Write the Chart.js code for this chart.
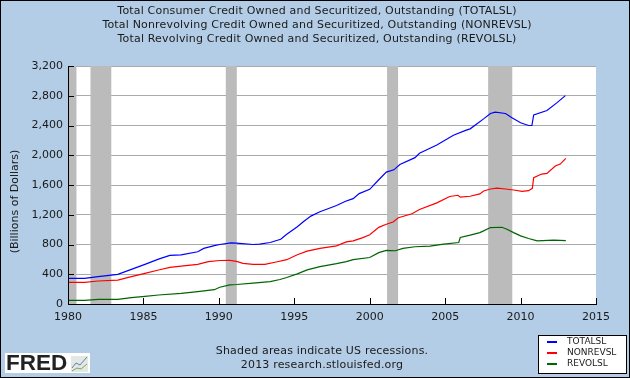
<!DOCTYPE html>
<html lang="en">
<head>
  <meta charset="UTF-8" />
  <title>FRED - Consumer Credit</title>
  <script src="https://cdn.jsdelivr.net/npm/chart.js"></script>
  <style>
    body { margin: 0; padding: 0; background: #b3cde6; }
    canvas { display: block; }
  </style>
</head>
<body>
  <canvas id="fredChart" width="630" height="378"></canvas>

  <script>
    const titleLines = [
      'Total Consumer Credit Owned and Securitized, Outstanding (TOTALSL)',
      'Total Nonrevolving Credit Owned and Securitized, Outstanding (NONREVSL)',
      'Total Revolving Credit Owned and Securitized, Outstanding (REVOLSL)'
    ];
    const footLines = ['Shaded areas indicate US recessions.', '2013 research.stlouisfed.org'];
    const yAxisLabel = '(Billions of Dollars)';

    const recessionStarts = [1980, 1981.49, 1990.46, 2001.15, 2007.85];
    const recessionEnds = [1980.56, 1982.87, 1991.19, 2001.88, 2009.45];

    const totalYears = [1980, 1981.1, 1982, 1983.3, 1984.2, 1985.1, 1986, 1986.75, 1987.5, 1988.6, 1989, 1989.7,
      1990.06, 1990.8, 1991.17, 1992.27, 1992.7, 1993.4, 1994.1, 1994.5, 1995.2, 1995.6, 1996.1, 1996.7, 1997.1,
      1997.8, 1998.4, 1998.9, 1999.3, 2000, 2000.6, 2001.1, 2001.6, 2002, 2003, 2003.3, 2004.45, 2005.55, 2006.4,
      2006.66, 2007.55, 2008, 2008.32, 2009, 2009.43, 2010, 2010.53, 2010.75, 2010.87, 2011.75, 2012.4, 2012.97];
    const totalValues = [345, 345, 367, 399, 466, 533, 604, 654, 660, 703, 748, 784,
      800, 822, 818, 800, 804, 827, 871, 938, 1040, 1106, 1182, 1240, 1271,
      1324, 1382, 1417, 1484, 1542, 1671, 1773, 1804, 1875, 1968, 2026, 2137, 2270, 2337,
      2355, 2489, 2561, 2579, 2561, 2503, 2436, 2400, 2400, 2543, 2601, 2704, 2802];

    const nonrevYears = [1980, 1981.1, 1982, 1983.3, 1984.2, 1985.1, 1986, 1986.75, 1987.5, 1988.6, 1989.3, 1990.06,
      1990.73, 1991.17, 1991.6, 1992.27, 1993.05, 1993.8, 1994.5, 1995.2, 1995.85, 1996.7, 1997.8, 1998.45, 1998.9,
      1999.55, 2000, 2000.6, 2001.1, 2001.55, 2001.9, 2002.8, 2003.3, 2004.45, 2005.3, 2005.85, 2006, 2006.66, 2007.3,
      2007.55, 2008, 2008.43, 2009, 2009.54, 2010.1, 2010.53, 2010.78, 2010.87, 2011.4, 2011.75, 2012.3, 2012.63, 2013];
    const nonrevValues = [291, 291, 309, 322, 367, 412, 457, 493, 510, 533, 569, 585,
      587, 574, 547, 534, 534, 565, 596, 662, 711, 747, 782, 835, 849,
      893, 930, 1030, 1072, 1103, 1160, 1214, 1271, 1360, 1445, 1462, 1436, 1449, 1480,
      1519, 1546, 1559, 1546, 1533, 1515, 1524, 1555, 1698, 1747, 1756, 1855, 1881, 1957];

    const revolYears = [1980, 1981.1, 1982, 1983.3, 1984.2, 1985.1, 1986, 1987.5, 1988.6, 1989.7, 1990.06, 1990.73,
      1991.17, 1992.27, 1993.4, 1994.05, 1994.5, 1995.2, 1995.85, 1996.7, 1997.8, 1998.45, 1998.9, 2000, 2000.6,
      2001.1, 2001.7, 2002.2, 2003, 2004, 2004.9, 2005.9, 2006, 2006.66, 2007.3, 2007.55, 2008, 2008.76, 2009.1,
      2009.54, 2010, 2010.53, 2011.1, 2012.2, 2013];
    const revolValues = [49, 49, 63, 63, 85, 103, 121, 143, 166, 192, 225, 258,
      262, 280, 302, 329, 356, 405, 458, 502, 542, 569, 596, 625, 690,
      721, 716, 747, 770, 778, 805, 827, 894, 925, 960, 983, 1028, 1032, 1005,
      960, 916, 880, 849, 858, 853];

    const pairs = (xs, ys) => xs.map((x, i) => ({ x, y: ys[i] }));
    const axisFont = { family: "'DejaVu Sans'", size: 11 };
    const textColor = '#1a1a1a';

    // background, outer frame and the texts chart.js has no slot for
    const pagePlugin = {
      id: 'page',
      beforeDraw(chart) {
        const c = chart.ctx;
        c.save();
        c.fillStyle = '#b3cde6';
        c.fillRect(0, 0, 630, 378);
        c.fillStyle = '#ffffff';
        const a = chart.chartArea;
        c.fillRect(a.left, a.top, a.right - a.left, a.bottom - a.top);
        c.restore();
      },
      afterDraw(chart) {
        const c = chart.ctx;
        c.save();
        c.strokeStyle = '#000000';
        c.lineWidth = 2;
        c.strokeRect(0, 0, 630, 378);

        c.fillStyle = textColor;
        c.font = "11px 'DejaVu Sans'";
        c.letterSpacing = '0.18px';
        c.textAlign = 'center';
        c.textBaseline = 'middle';
        titleLines.forEach((t, i) => c.fillText(t, 317, 11 + i * 14));
        footLines.forEach((t, i) => c.fillText(t, 322, 351 + i * 14));
        c.letterSpacing = '0px';

        // y axis label sits lower than the axis middle in the original
        c.save();
        c.translate(15, 201.5);
        c.rotate(-Math.PI / 2);
        c.fillText(yAxisLabel, 0, 0);
        c.restore();

        // legend box
        c.fillStyle = '#ffffff';
        c.fillRect(538.5, 335.5, 88, 38);
        c.lineWidth = 1;
        c.strokeRect(538.5, 335.5, 88, 38);
        c.font = "9px 'DejaVu Sans'";
        c.textAlign = 'left';
        chart.data.datasets.forEach((ds, i) => {
          const y = 342 + i * 11;
          c.fillStyle = ds.borderColor;
          c.fillRect(547, y - 1, 10, 2);
          c.fillStyle = textColor;
          c.fillText(ds.label, 567, y);
        });

        // FRED logo
        c.fillStyle = '#ffffff';
        c.fillRect(5, 353, 85, 20);
        c.fillStyle = '#222222';
        c.font = "bold 22.5px 'Liberation Sans'";
        c.fillText('FRED', 6, 364);
        c.fillStyle = '#e4e8e4';
        c.fillRect(71, 356, 17, 16);
        c.strokeStyle = '#5b7fb5';
        c.beginPath();
        c.moveTo(72, 368); c.lineTo(76, 363); c.lineTo(80, 365); c.lineTo(87, 357);
        c.stroke();
        c.strokeStyle = '#7fa65a';
        c.beginPath();
        c.moveTo(72, 371); c.lineTo(77, 368); c.lineTo(81, 369); c.lineTo(87, 364);
        c.stroke();
        c.restore();
      }
    };

    // recession bars sit over the gridlines and under the lines
    const recessionPlugin = {
      id: 'recessions',
      beforeDatasetsDraw(chart) {
        const c = chart.ctx;
        const x = chart.scales.x;
        const a = chart.chartArea;
        c.save();
        c.fillStyle = '#bbbbbb';
        recessionStarts.forEach((start, i) => {
          const left = x.getPixelForValue(start);
          c.fillRect(left, a.top, x.getPixelForValue(recessionEnds[i]) - left, a.bottom - a.top);
        });
        c.restore();
      },
      // inward axis lines and ticks go on top of the shading
      afterDatasetsDraw(chart) {
        const c = chart.ctx;
        const { x, y } = chart.scales;
        const a = chart.chartArea;
        c.save();
        c.fillStyle = '#000000';
        c.fillRect(a.left, a.top, 1, a.bottom - a.top + 1);
        c.fillRect(a.left, a.bottom, a.right - a.left + 1, 1);
        y.ticks.forEach(t => c.fillRect(a.left, Math.round(y.getPixelForValue(t.value)), 6, 1));
        x.ticks.forEach(t => c.fillRect(Math.round(x.getPixelForValue(t.value)), a.bottom - 6, 1, 6));
        c.restore();
      }
    };

    new Chart(document.getElementById('fredChart'), {
      type: 'line',
      data: {
        datasets: [
          { label: 'TOTALSL', data: pairs(totalYears, totalValues), borderColor: '#0000ff' },
          { label: 'NONREVSL', data: pairs(nonrevYears, nonrevValues), borderColor: '#ff0000' },
          { label: 'REVOLSL', data: pairs(revolYears, revolValues), borderColor: '#006400' }
        ]
      },
      options: {
        responsive: false,
        animation: false,
        parsing: false,
        elements: { point: { radius: 0 }, line: { borderWidth: 1.2, tension: 0 } },
        layout: { padding: { top: 66, right: 34, left: 0, bottom: 0 } },
        plugins: { legend: { display: false }, title: { display: false }, tooltip: { enabled: false } },
        scales: {
          x: {
            type: 'linear',
            min: 1980,
            max: 2015,
            afterFit(scale) { scale.height = 74; },
            grid: { display: false, tickLength: 0 },
            border: { display: false },
            ticks: {
              stepSize: 5,
              padding: 7,
              color: textColor,
              font: axisFont,
              maxRotation: 0,
              callback: v => String(v)
            }
          },
          y: {
            min: 0,
            max: 3200,
            afterFit(scale) { scale.width = 68; },
            grid: { color: '#aaaaaa', tickLength: 0 },
            border: { display: false },
            ticks: {
              stepSize: 400,
              padding: 5,
              color: textColor,
              font: axisFont,
              callback: v => v.toLocaleString('en-US')
            }
          }
        }
      },
      plugins: [pagePlugin, recessionPlugin]
    });
  </script>
</body>
</html>
